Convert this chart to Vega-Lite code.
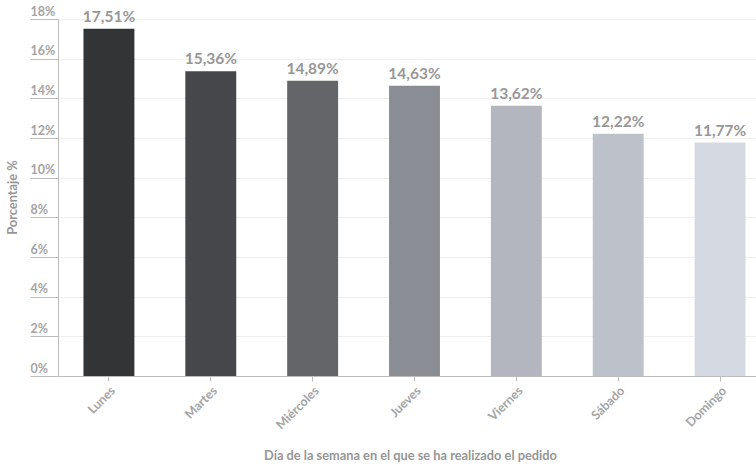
{
  "$schema": "https://vega.github.io/schema/vega-lite/v6.json",
  "width": 698,
  "height": 357,
  "autosize": {"type": "none"},
  "padding": {"left": 58, "top": 19, "right": 0, "bottom": 95},
  "background": "white",
  "config": {
    "font": "Lato",
    "locale": {"number": {"decimal": ",", "thousands": ".", "grouping": [3], "currency": ["", " €"]}},
    "view": {"stroke": null},
    "axis": {"labelFont": "Lato", "titleFont": "Lato", "labelFontWeight": "bold", "titleFontWeight": "bold", "labelColor": "#a4a4a4", "titleColor": "#969696", "labelFontSize": 12.5, "titleFontSize": 12.8, "domainColor": "#bdbdbd", "tickColor": "#bdbdbd", "gridColor": "#efefef"}
  },
  "data": {
    "values": [
      {"dia": "Lunes", "pct": 0.1751},
      {"dia": "Martes", "pct": 0.1536},
      {"dia": "Miércoles", "pct": 0.1489},
      {"dia": "Jueves", "pct": 0.1463},
      {"dia": "Viernes", "pct": 0.1362},
      {"dia": "Sábado", "pct": 0.1222},
      {"dia": "Domingo", "pct": 0.1177}
    ]
  },
  "encoding": {
    "x": {
      "field": "dia",
      "type": "nominal",
      "sort": null,
      "scale": {"range": [0, 713], "paddingInner": 0.5, "paddingOuter": 0.25},
      "axis": {
        "title": "Día de la semana en el que se ha realizado el pedido",
        "labelAngle": -45,
        "labelAlign": "right",
        "labelBaseline": "top",
        "labelPadding": 3,
        "tickSize": 5,
        "titleY": 79,
        "titleX": 352,
        "titleBaseline": "middle"
      }
    },
    "y": {
      "field": "pct",
      "type": "quantitative",
      "scale": {"domain": [0, 0.18], "nice": false},
      "axis": {
        "title": "Porcentaje %",
        "format": ".0%",
        "values": [0, 0.02, 0.04, 0.06, 0.08, 0.1, 0.12, 0.14, 0.16, 0.18],
        "tickSize": 28,
        "labelAlign": "left",
        "labelBaseline": "bottom",
        "labelPadding": 0,
        "labelOffset": -1,
        "titleX": -46,
        "titleY": 178,
        "titleAngle": -90,
        "titleBaseline": "middle",
        "titleAlign": "center",
        "grid": true
      }
    }
  },
  "layer": [
    {
      "mark": {"type": "bar"},
      "encoding": {
        "color": {
          "field": "dia",
          "type": "nominal",
          "legend": null,
          "scale": {
            "domain": ["Lunes", "Martes", "Miércoles", "Jueves", "Viernes", "Sábado", "Domingo"],
            "range": ["#333436", "#46474b", "#646569", "#8a8d94", "#b3b6be", "#bdc1c9", "#d5d9e2"]
          }
        }
      }
    },
    {
      "mark": {"type": "text", "baseline": "bottom", "dy": -4, "fontSize": 15.5, "fontWeight": "bold", "color": "#979797", "font": "Lato"},
      "encoding": {
        "text": {"field": "pct", "type": "quantitative", "format": ".2%"}
      }
    }
  ]
}
